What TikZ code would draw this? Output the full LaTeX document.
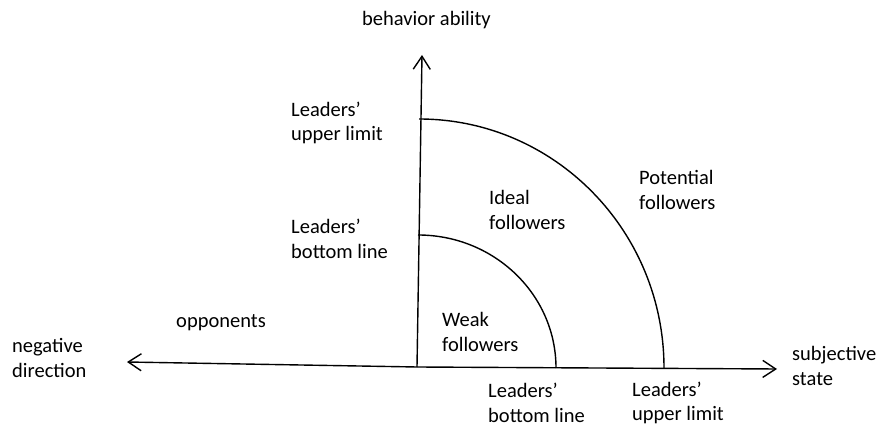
\documentclass[tikz,border=0pt]{standalone}
\usepackage{fontspec}
\setmainfont{Carlito}
\usetikzlibrary{arrows.meta}
\begin{document}
\begin{tikzpicture}[x=1pt,y=-1pt,
  lbl/.style={anchor=west,align=left,inner sep=0pt,font=\fontsize{20.5}{24.5}\selectfont},
  axis/.style={line width=1.4pt,-{Straight Barb[length=13pt,width=17pt,line width=1.4pt]}},
  curve/.style={line width=1.4pt}]
\useasboundingbox (0,0) rectangle (887,427);
% axes
\coordinate (o) at (417,367);
\coordinate (ytop) at (422,55);
\coordinate (xl) at (127,362);
\coordinate (xr) at (777,369);
\draw[axis] (o) -- (ytop);
\draw[axis] (o) -- (xl);
\draw[axis] (o) -- (xr);
% arcs
\coordinate (outR) at (664,368);
\coordinate (inR) at (556,368);
\draw[curve] (outR) arc[start angle=0,end angle=-90,x radius=245,y radius=249];
\draw[curve] (inR) arc[start angle=0,end angle=-90,x radius=138,y radius=133];
% labels
\node[lbl] (ba) at (362,20) {behavior ability};
\node[lbl] (lul) at (291,123) {Leaders'\\upper limit};
\node[lbl] (lbl1) at (291,239) {Leaders'\\bottom line};
\node[lbl] (ideal) at (489,210) {Ideal\\followers};
\node[lbl] (pot) at (639,190) {Potential\\followers};
\node[lbl] (weak) at (442,332) {Weak\\followers};
\node[lbl] (opp) at (176,323) {opponents};
\node[lbl] (neg) at (12,358) {negative\\direction};
\node[lbl] (subj) at (792,366) {subjective\\state};
\node[lbl] (lbb) at (488,403) {Leaders'\\bottom line};
\node[lbl] (lub) at (632,403) {Leaders'\\upper limit};
\end{tikzpicture}
\end{document}
